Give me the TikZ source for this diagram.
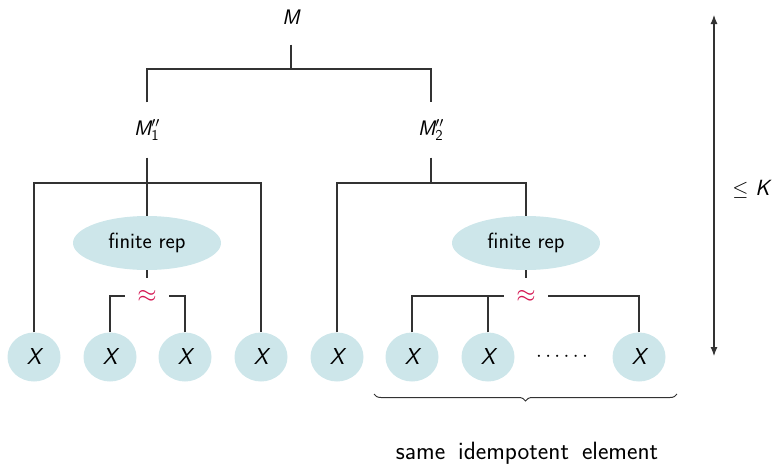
\documentclass[tikz,border=0pt]{standalone}
\usepackage{fontspec}
\usetikzlibrary{shapes.geometric,decorations.pathreplacing,arrows.meta}
\definecolor{repfill}{RGB}{205,230,234}
\definecolor{simred}{RGB}{212,22,82}
\definecolor{linegray}{RGB}{50,50,50}
\tikzset{
  lbl/.style={font=\fontsize{21}{24}\selectfont\sffamily, minimum height=55pt, inner sep=0pt},
  rep/.style={ellipse, fill=repfill, minimum width=148pt, minimum height=54pt, inner sep=0pt,
              font=\fontsize{22}{24}\selectfont\sffamily},
  leaf/.style={ellipse, fill=repfill, minimum width=53pt, minimum height=49pt, inner sep=0pt,
               font=\fontsize{23}{26}\selectfont\sffamily\itshape},
  sim/.style={minimum width=43pt, minimum height=36pt, inner sep=0pt, text=simred,
              font=\fontsize{28}{30}\selectfont},
  conn/.style={draw=linegray, line width=1.1pt}
}
\begin{document}
\begin{tikzpicture}[x=1pt,y=-1pt]
\useasboundingbox (0,0) rectangle (777,464);

% top level
\node[lbl] (M)  at (291,17)  {\itshape M};
\node[lbl] (M1) at (147,130) {\itshape M$^{\prime\prime}_{\mbox{\upshape\fontsize{15}{16}\selectfont 1}}$};
\node[lbl] (M2) at (431,130) {\itshape M$^{\prime\prime}_{\mbox{\upshape\fontsize{15}{16}\selectfont 2}}$};
\coordinate (t) at (291,69);
\draw[conn] (M.south) -- (t);
\draw[conn] (M1.north) |- (t) -| (M2.north);

% finite representations
\node[rep] (F1) at (147,243) {finite rep};
\node[rep] (F2) at (526,243) {finite rep};

% leaves
\node[leaf] (X1) at (34,357)  {X};
\node[leaf] (X2) at (110,357) {X};
\node[leaf] (X3) at (185,357) {X};
\node[leaf] (X4) at (261,357) {X};
\node[leaf] (X5) at (337,357) {X};
\node[leaf] (X6) at (412,357) {X};
\node[leaf] (X7) at (488,357) {X};
\node[font=\fontsize{21}{24}\selectfont] (D) at (562,357) {$\cdots\cdots$};
\node[leaf] (X8) at (639,357) {X};

% left subtree
\coordinate (b1) at (147,183);
\draw[conn] (M1.south) -- (F1.north);
\draw[conn] (X1.north) |- (b1) -| (X4.north);
\node[sim] (A1) at (147,296) {$\approx$};
\draw[conn] (F1.south) -- (A1.north);
\draw[conn] (X2.north) |- (A1.west);
\draw[conn] (X3.north) |- (A1.east);

% right subtree
\coordinate (b2) at (431,183);
\draw[conn] (M2.south) -- (b2);
\draw[conn] (X5.north) |- (b2) -| (F2.north);
\node[sim] (A2) at (526,296) {$\approx$};
\draw[conn] (F2.south) -- (A2.north);
\draw[conn] (X6.north) |- (A2.west);
\draw[conn] (X7.north) -- (X7.north |- A2.west);
\draw[conn] (X8.north) |- (A2.east);

% brace and caption
\coordinate (bl) at (374,394);
\coordinate (br) at (677,394);
\draw[conn, line width=1pt, decorate, decoration={brace, mirror, amplitude=7pt}] (bl) -- (br);
\node[font=\fontsize{25}{28}\selectfont\sffamily] (cap) at (527,453)
  {same\hspace{13pt}idempotent\hspace{13pt}element};

% height arrow
\coordinate (up) at (714,15);
\coordinate (dn) at (714,356);
\draw[conn, {Latex[length=9pt,width=7pt]}-{Latex[length=9pt,width=7pt]}] (up) -- (dn);
\node[font=\fontsize{22}{24}\selectfont\sffamily] (K) at (751,189) {$\leq$ \itshape K};
\end{tikzpicture}
\end{document}
